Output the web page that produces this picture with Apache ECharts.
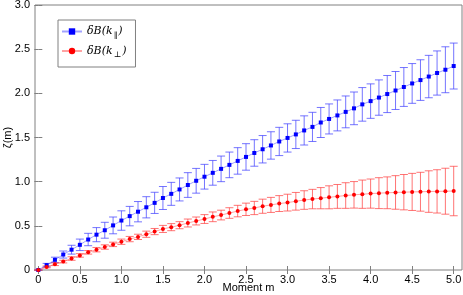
<!DOCTYPE html>
<html><head><meta charset="utf-8">
<script src="https://cdn.jsdelivr.net/npm/echarts@6/dist/echarts.min.js"></script>
<style>html,body{margin:0;padding:0;background:#fff}#c{width:463px;height:295px}</style>
</head><body><div id="c"></div>
<script>
const moments = [0,0.1,0.2,0.3,0.4,0.5,0.6,0.7,0.8,0.9,1.0,1.1,1.2,1.3,1.4,1.5,1.6,1.7,1.8,1.9,2.0,2.1,2.2,2.3,2.4,2.5,2.6,2.7,2.8,2.9,3.0,3.1,3.2,3.3,3.4,3.5,3.6,3.7,3.8,3.9,4.0,4.1,4.2,4.3,4.4,4.5,4.6,4.7,4.8,4.9,5.0];
const zetaPar = [0,0.055,0.115,0.175,0.23,0.285,0.345,0.40,0.45,0.505,0.56,0.61,0.66,0.71,0.76,0.815,0.862,0.912,0.962,1.01,1.056,1.10,1.145,1.19,1.235,1.28,1.325,1.367,1.41,1.455,1.495,1.535,1.58,1.62,1.67,1.71,1.75,1.79,1.83,1.875,1.912,1.952,1.992,2.032,2.072,2.112,2.15,2.19,2.23,2.267,2.309];
const errPar = [0,0.02,0.03,0.04,0.05,0.065,0.07,0.08,0.09,0.095,0.11,0.11,0.115,0.12,0.12,0.13,0.13,0.13,0.14,0.14,0.14,0.14,0.145,0.145,0.15,0.15,0.15,0.155,0.155,0.16,0.16,0.16,0.165,0.165,0.17,0.17,0.175,0.18,0.185,0.19,0.195,0.2,0.21,0.215,0.22,0.225,0.23,0.24,0.25,0.26,0.26];
const zetaPerp = [0,0.035,0.065,0.095,0.13,0.165,0.20,0.23,0.26,0.29,0.32,0.35,0.375,0.405,0.435,0.465,0.485,0.507,0.532,0.555,0.577,0.602,0.622,0.645,0.667,0.687,0.702,0.722,0.737,0.752,0.763,0.778,0.792,0.803,0.813,0.823,0.833,0.843,0.851,0.858,0.865,0.87,0.874,0.878,0.881,0.884,0.886,0.888,0.890,0.892,0.894];
const errPerp = [0,0.01,0.015,0.015,0.02,0.02,0.02,0.025,0.025,0.025,0.03,0.03,0.03,0.035,0.035,0.04,0.04,0.04,0.045,0.045,0.05,0.055,0.055,0.06,0.065,0.07,0.075,0.08,0.085,0.09,0.095,0.1,0.105,0.11,0.12,0.13,0.135,0.145,0.15,0.16,0.165,0.175,0.18,0.19,0.2,0.21,0.22,0.235,0.245,0.26,0.28];
const xTicks = [0,0.5,1.0,1.5,2.0,2.5,3.0,3.5,4.0,4.5,5.0];
const yTicks = [0,0.5,1.0,1.5,2.0,2.5,3.0];
const namePar = 'δB(k∥)';
const namePerp = 'δB(k⊥)';

const fmt = v => v === 0 ? '0' : v.toFixed(1);
const FONT = 'Liberation Sans';

function errData(ys, es){ return moments.map((m,i)=>[m, ys[i]-es[i], ys[i]+es[i]]); }
function errRender(color){
  return function(params, api){
    const x = api.value(0);
    const lo = api.coord([x, api.value(1)]);
    const hi = api.coord([x, api.value(2)]);
    const w = 4;
    const st = {stroke: color, lineWidth: 1};
    return {type:'group', children:[
      {type:'line', shape:{x1:lo[0],y1:lo[1],x2:hi[0],y2:hi[1]}, style:st},
      {type:'line', shape:{x1:lo[0]-w,y1:lo[1],x2:lo[0]+w,y2:lo[1]}, style:st},
      {type:'line', shape:{x1:hi[0]-w,y1:hi[1],x2:hi[0]+w,y2:hi[1]}, style:st}
    ]};
  };
}

const chart = echarts.init(document.getElementById('c'), null, {renderer:'canvas'});
const xAxisBase = {type:'value', min:-0.04, max:5.1, splitLine:{show:false},
  axisLine:{show:false}, axisTick:{show:true, inside:true, length:4, lineStyle:{color:'#808080'}, customValues:xTicks}};
const yAxisBase = {type:'value', min:0, max:3, interval:0.5, splitLine:{show:false},
  axisLine:{show:false}, axisTick:{show:true, inside:true, length:4, lineStyle:{color:'#808080'}}};
chart.setOption({
  animation:false,
  grid:{left:35, right:1, top:5, bottom:25, show:true, borderColor:'#808080', borderWidth:1, backgroundColor:'#fff',
    containLabel:false, outerBoundsMode:'none'},
  xAxis:[
    Object.assign({}, xAxisBase, {position:'bottom', name:'Moment m', nameLocation:'middle', nameGap:18, nameMoveOverlap:false,
      nameTextStyle:{fontFamily:FONT, fontSize:11, color:'#000', verticalAlign:'middle'},
      axisLabel:{customValues:xTicks, formatter:fmt, margin:4, fontFamily:FONT, fontSize:11, color:'#000'}}),
    Object.assign({}, xAxisBase, {position:'top', axisLabel:{show:false}})
  ],
  yAxis:[
    Object.assign({}, yAxisBase, {position:'left', name:'ζ(m)', nameLocation:'middle', nameGap:27, nameRotate:90, nameMoveOverlap:false,
      nameTextStyle:{fontFamily:FONT, fontSize:11, color:'#000', verticalAlign:'middle'},
      axisLabel:{formatter:fmt, margin:5, fontFamily:FONT, fontSize:11, color:'#000'}}),
    Object.assign({}, yAxisBase, {position:'right', axisLabel:{show:false}})
  ],
  legend:{
    orient:'vertical', left:58, top:20, padding:[6,9,8,3], itemGap:6,
    itemWidth:20, itemHeight:8,
    backgroundColor:'#fff', borderColor:'#808080', borderWidth:1,
    data:[namePar, namePerp],
    formatter: n => n === namePar ? '{a|δB(k}{s|∥}{a|)}' : '{a|δB(k}{s|⊥}{a|)}',
    textStyle:{rich:{
      a:{fontFamily:'DejaVu Serif', fontStyle:'italic', fontSize:11, color:'#000', lineHeight:16},
      s:{fontFamily:'DejaVu Serif', fontSize:8, color:'#000', lineHeight:16, verticalAlign:'bottom', padding:[4,1,0,1]}
    }}
  },
  series:[
    {type:'custom', name:'errPar', data:errData(zetaPar, errPar), renderItem:errRender('rgba(70,70,255,0.75)'), z:2, silent:true},
    {type:'custom', name:'errPerp', data:errData(zetaPerp, errPerp), renderItem:errRender('rgba(255,70,70,0.75)'), z:2, silent:true},
    {type:'line', name:namePar, data:moments.map((m,i)=>[m, zetaPar[i]]), symbol:'rect', symbolSize:4,
      itemStyle:{color:'#0000ff'}, lineStyle:{color:'rgba(100,100,255,0.6)', width:1}, z:3},
    {type:'line', name:namePerp, data:moments.map((m,i)=>[m, zetaPerp[i]]), symbol:'circle', symbolSize:4,
      itemStyle:{color:'#ff0000'}, lineStyle:{color:'rgba(255,100,100,0.6)', width:1}, z:3}
  ]
});
</script></body></html>
